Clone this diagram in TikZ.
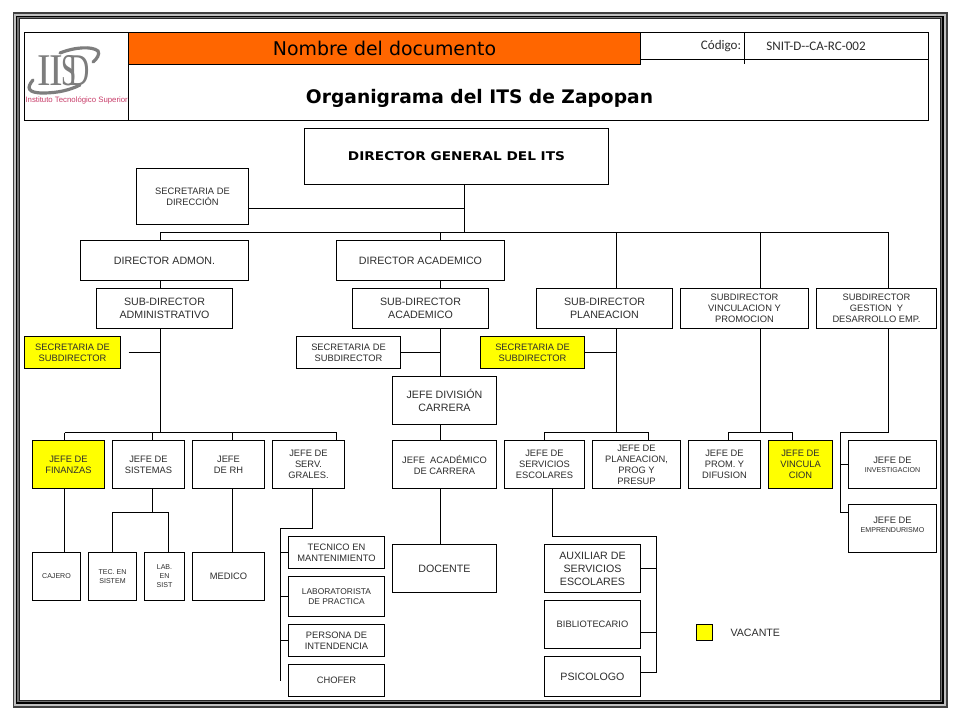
\documentclass[tikz,border=0pt]{standalone}
\usepackage{fontspec}
\setmainfont{Liberation Sans}
\newfontfamily\verdanafont{DejaVu Sans}
\newfontfamily\calibrifont{Carlito}
\newfontfamily\logofont{Liberation Serif}
\usetikzlibrary{positioning}
\definecolor{itsOrange}{RGB}{255, 102, 0}
\definecolor{itsYellow}{RGB}{255, 255, 0}
\definecolor{itsText}{RGB}{45, 45, 45}
\definecolor{itsGray}{RGB}{125, 125, 125}
\definecolor{itsPink}{RGB}{200, 60, 105}

\begin{document}
\begin{tikzpicture}[
        x=0.75pt, y=-0.75pt,
        wh/.style 2 args={minimum width=#1*0.75pt, minimum height=#2*0.75pt},
        box/.style={rectangle, draw=black, fill=white, line width=0.75pt, inner sep=0pt, outer sep=0pt, align=center, text=itsText},
        vacbox/.style={box, fill=itsYellow},
        txtL/.style={font=\fontsize{8}{9.75}\selectfont},
        txtM/.style={font=\fontsize{7}{8.25}\selectfont},
        txtS/.style={font=\fontsize{5.3}{6.8}\selectfont},
        plain/.style={inner sep=0pt, outer sep=0pt, align=center},
        logoletter/.style={plain, text=itsGray, font=\logofont\fontsize{34}{34}\selectfont},
        line/.style={line width=0.75pt, black}
    ]
        \useasboundingbox (0,0) rectangle (960,720);
        \fill[black!75] (12.5,12.5) rectangle (948,708);
        \fill[black!25] (14,14) rectangle (946,706);
        \fill[black] (16,16) rectangle (944,704);
        \fill[black!55] (17,17) rectangle (942,702);
        \fill[black!85] (18.5,18.5) rectangle (940.5,700.5);
        \fill[white] (19.5,19.5) rectangle (939.5,699.5);

        \node[box, wh={904}{88}] (head) at (476.5,76.5) {};
        \node[box, wh={104}{88}] (logo) at (76.5,76.5) {};
        \node[box, fill=itsOrange, wh={512}{32.5}, text=black, font=\verdanafont\fontsize{14.2}{18}\selectfont] (docname) at (384.5,48.75) {\raisebox{-0.75pt}{Nombre del documento}};
        \coordinate (codeL) at (640.5,59.5);
        \coordinate (codeTop) at (744.5,32.5);
        \coordinate (codeEnd) at (744.5,64.5);
        \draw[line] (codeL) -- (codeL -| head.east);
        \draw[line] (codeTop) -- (codeEnd);
        \node[plain, font=\calibrifont\fontsize{9.8}{11}\selectfont, text=itsText] (codelabel) at (721,46) {Código:};
        \node[plain, font=\calibrifont\fontsize{9.8}{11}\selectfont, text=itsText] (codevalue) at (816,46) {SNIT-D--CA-RC-002};
        \node[plain, font=\verdanafont\bfseries\fontsize{14}{16}\selectfont] (title) at (479.5,98.5) {Organigrama del ITS de Zapopan};

        \draw[itsGray, line width=2.4pt, line cap=round] (60,53) .. controls (75,47) and (92,46) .. (98,51) .. controls (100,54) and (97,59) .. (93,62);
        \draw[itsGray, line width=2.4pt, line cap=round] (33,80) .. controls (26,88) and (28,93) .. (43,93) .. controls (58,93) and (70,90) .. (80,85);
        \node[logoletter] (logoI) at (44,70.5) {\scalebox{.9}[1]{I}};
        \node[logoletter] (logoT) at (56,70.5) {\scalebox{.9}[1]{I}};
        \node[logoletter] (logoS) at (69,70.5) {\scalebox{.6}[1]{S}};
        \node[logoletter] (logoD) at (79,70.5) {\scalebox{.65}[1]{D}};
        \node[plain, anchor=west, text=itsPink, font=\fontsize{5.85}{7}\selectfont] (logotext) at (25.5,100.5) {Instituto Tecnológico Superior};

        \node[box, wh={304}{56}, font=\verdanafont\bfseries\fontsize{9}{11}\selectfont, text=black] (dirgen) at (456.5,156.5) {\scalebox{1.14}[1]{DIRECTOR GENERAL DEL ITS}};
        \node[box, txtM, wh={112}{56}] (secdir) at (192.5,196.5) {SECRETARIA DE\\DIRECCIÓN};
        \node[box, txtL, wh={168}{40}] (diradm) at (164.5,260.5) {DIRECTOR ADMON.};
        \node[box, txtL, wh={168}{40}] (diraca) at (420.5,260.5) {DIRECTOR ACADEMICO};
        \node[box, txtL, wh={136}{40}] (subadm) at (164.5,308.5) {SUB-DIRECTOR\\ADMINISTRATIVO};
        \node[box, txtL, wh={136}{40}] (subaca) at (420.5,308.5) {SUB-DIRECTOR\\ACADEMICO};
        \node[box, txtL, wh={136}{40}] (subpla) at (604.5,308.5) {SUB-DIRECTOR\\PLANEACION};
        \node[box, txtM, wh={128}{40}] (subvin) at (744.5,308.5) {SUBDIRECTOR\\VINCULACION Y\\PROMOCION};
        \node[box, txtM, wh={120}{40}] (subges) at (876.5,308.5) {SUBDIRECTOR\\GESTION\ \ Y\\DESARROLLO EMP.};
        \node[vacbox, txtM, wh={96}{32}] (secadm) at (72.5,352.5) {SECRETARIA DE\\SUBDIRECTOR};
        \node[box, txtM, wh={104}{32}] (secaca) at (348.5,352.5) {SECRETARIA DE\\SUBDIRECTOR};
        \node[vacbox, txtM, wh={104}{32}] (secpla) at (532.5,352.5) {SECRETARIA DE\\SUBDIRECTOR};
        \node[box, txtL, wh={104}{48}] (jefdiv) at (444.5,400.5) {JEFE DIVISIÓN\\CARRERA};

        \node[vacbox, txtM, wh={72}{48}] (finanzas) at (68.5,464.5) {JEFE DE\\FINANZAS};
        \node[box, txtM, wh={72}{48}] (sistemas) at (148.5,464.5) {JEFE DE\\SISTEMAS};
        \node[box, txtM, wh={72}{48}] (rh) at (228.5,464.5) {JEFE\\DE RH};
        \node[box, txtM, wh={72}{48}] (servgr) at (308.5,464.5) {JEFE DE\\SERV.\\GRALES.};
        \node[box, txtM, wh={104}{48}] (jefaca) at (444.5,464.5) {JEFE\ \ ACADÉMICO\\DE CARRERA};
        \node[box, txtM, wh={80}{48}] (servesc) at (544.5,464.5) {JEFE DE\\SERVICIOS\\ESCOLARES};
        \node[box, txtM, wh={88}{48}] (planea) at (636.5,464.5) {JEFE DE\\PLANEACION,\\PROG Y\\PRESUP};
        \node[box, txtM, wh={72}{48}] (prom) at (724.5,464.5) {JEFE DE\\PROM. Y\\DIFUSION};
        \node[vacbox, txtM, wh={64}{48}] (vincula) at (800.5,464.5) {JEFE DE\\VINCULA\\CION};
        \node[box, txtM, wh={88}{48}] (invest) at (892.5,464.5) {JEFE DE\\[-1.5pt]{\fontsize{5.3}{6}\selectfont INVESTIGACION}};
        \node[box, txtM, wh={88}{48}] (empren) at (892.5,528.5) {JEFE DE\\[-1.5pt]{\fontsize{5.3}{6}\selectfont EMPRENDURISMO}\\[-2pt]~};

        \node[box, txtS, wh={48}{48}] (cajero) at (56.5,576.5) {CAJERO};
        \node[box, txtS, wh={48}{48}] (tecsis) at (112.5,576.5) {TEC. EN\\SISTEM};
        \node[box, txtS, wh={40}{48}] (labsis) at (164.5,576.5) {LAB.\\EN\\SIST};
        \node[box, txtM, wh={72}{48}] (medico) at (228.5,576.5) {MEDICO};
        \node[box, txtM, wh={96}{32}] (tecman) at (336.5,552.5) {TECNICO EN\\MANTENIMIENTO};
        \node[box, font=\fontsize{6.3}{7.5}\selectfont, wh={96}{40}] (labpra) at (336.5,596.5) {LABORATORISTA\\DE PRACTICA};
        \node[box, txtM, wh={96}{32}] (intend) at (336.5,640.5) {PERSONA DE\\INTENDENCIA};
        \node[box, txtM, wh={96}{32}] (chofer) at (336.5,680.5) {CHOFER};
        \node[box, txtL, wh={104}{48}] (docente) at (444.5,568.5) {DOCENTE};
        \node[box, txtL, wh={96}{48}] (auxesc) at (592.5,568.5) {AUXILIAR DE\\SERVICIOS\\ESCOLARES};
        \node[box, txtM, wh={96}{48}] (biblio) at (592.5,624.5) {BIBLIOTECARIO};
        \node[box, txtL, wh={96}{40}] (psico) at (592.5,676.5) {PSICOLOGO};
        \node[vacbox, wh={16}{16}] (vacsq) at (704.5,632.5) {};
        \node[plain, txtL, text=itsText, right=13.5pt of vacsq] (vactxt) {VACANTE};

        \coordinate (genbus) at (464.5,232.5);
        \coordinate (genmid) at (464.5,184.5);
        \coordinate (secjoin) at (464.5,208.5);
        \coordinate (busadm) at (160.5,232.5);
        \coordinate (busaca) at (440.5,232.5);
        \coordinate (buspla) at (616.5,232.5);
        \coordinate (busvin) at (760.5,232.5);
        \coordinate (busges) at (888.5,232.5);
        \draw[line] (genmid) -- (genbus);
        \draw[line] (secjoin -| secdir.east) -- (secjoin);
        \draw[line] (busadm) -- (busges);
        \draw[line] (busadm) -- (busadm |- diradm.north);
        \draw[line] (busaca) -- (busaca |- diraca.north);
        \draw[line] (buspla) -- (buspla |- subpla.north);
        \draw[line] (busvin) -- (busvin |- subvin.north);
        \draw[line] (busges) -- (busges |- subges.north);
        \draw[line] (busadm |- diradm.south) -- (busadm |- subadm.north);
        \draw[line] (busaca |- diraca.south) -- (busaca |- subaca.north);

        \coordinate (adminfree) at (128.5,352.5);
        \coordinate (adminbus) at (160.5,432.5);
        \draw[line] (busadm |- subadm.south) -- (adminbus);
        \draw[line] (adminfree) -- (adminfree -| adminbus);
        \draw[line] (busaca |- subaca.south) -- (busaca |- jefdiv.north);
        \draw[line] (secaca.east) -- (secaca.east -| busaca);
        \draw[line] (busaca |- jefdiv.south) -- (busaca |- jefaca.north);
        \draw[line] (busaca |- jefaca.south) -- (busaca |- docente.north);
        \draw[line] (secpla.east) -- (secpla.east -| buspla);

        \coordinate (finbus) at (64.5,432.5);
        \coordinate (sisbus) at (152.5,432.5);
        \coordinate (rhbus) at (232.5,432.5);
        \coordinate (serbus) at (336.5,432.5);
        \draw[line] (finbus) -- (serbus);
        \draw[line] (finbus) -- (finbus |- finanzas.north);
        \draw[line] (sisbus) -- (sisbus |- sistemas.north);
        \draw[line] (rhbus) -- (rhbus |- rh.north);
        \draw[line] (serbus) -- (serbus |- servgr.north);
        \draw[line] (finbus |- finanzas.south) -- (finbus |- cajero.north);
        \draw[line] (rhbus |- rh.south) -- (rhbus |- medico.north);

        \coordinate (sisdown) at (152.5,512.5);
        \coordinate (teclink) at (112.5,512.5);
        \coordinate (lablink) at (168.5,512.5);
        \draw[line] (sisbus |- sistemas.south) -- (sisdown);
        \draw[line] (tecsis.north) -- (teclink) -- (lablink) -- (lablink |- labsis.north);

        \coordinate (servdown) at (312.5,528.5);
        \coordinate (servside) at (280.5,528.5);
        \coordinate (servend) at (280.5,680.5);
        \draw[line] (servdown |- servgr.south) -- (servdown) -- (servside) -- (servend);
        \draw[line] (servside |- tecman.west) -- (tecman.west);
        \draw[line] (servside |- labpra.west) -- (labpra.west);
        \draw[line] (servside |- intend.west) -- (intend.west);

        \coordinate (plaL) at (544.5,432.5);
        \coordinate (plaR) at (648.5,432.5);
        \draw[line] (buspla |- subpla.south) -- (buspla |- plaL);
        \draw[line] (plaL |- servesc.north) -- (plaL) -- (plaR) -- (plaR |- planea.north);
        \coordinate (vinL) at (728.5,432.5);
        \coordinate (vinR) at (792.5,432.5);
        \draw[line] (busvin |- subvin.south) -- (busvin |- vinL);
        \draw[line] (vinL |- prom.north) -- (vinL) -- (vinR) -- (vinR |- vincula.north);
        \coordinate (gesjog) at (840.5,432.5);
        \coordinate (gesend) at (840.5,512.5);
        \draw[line] (busges |- subges.south) -- (busges |- gesjog) -- (gesjog) -- (gesend) -- (gesend -| empren.west);
        \draw[line] (gesjog |- invest.west) -- (invest.west);

        \coordinate (escdown) at (552.5,536.5);
        \coordinate (escside) at (656.5,536.5);
        \coordinate (escend) at (656.5,672.5);
        \coordinate (bibjoin) at (656.5,632.5);
        \draw[line] (escdown |- servesc.south) -- (escdown) -- (escside) -- (escend) -- (escend -| psico.east);
        \draw[line] (auxesc.east) -- (auxesc.east -| escside);
        \draw[line] (bibjoin -| biblio.east) -- (bibjoin);
    \end{tikzpicture}
\end{document}
